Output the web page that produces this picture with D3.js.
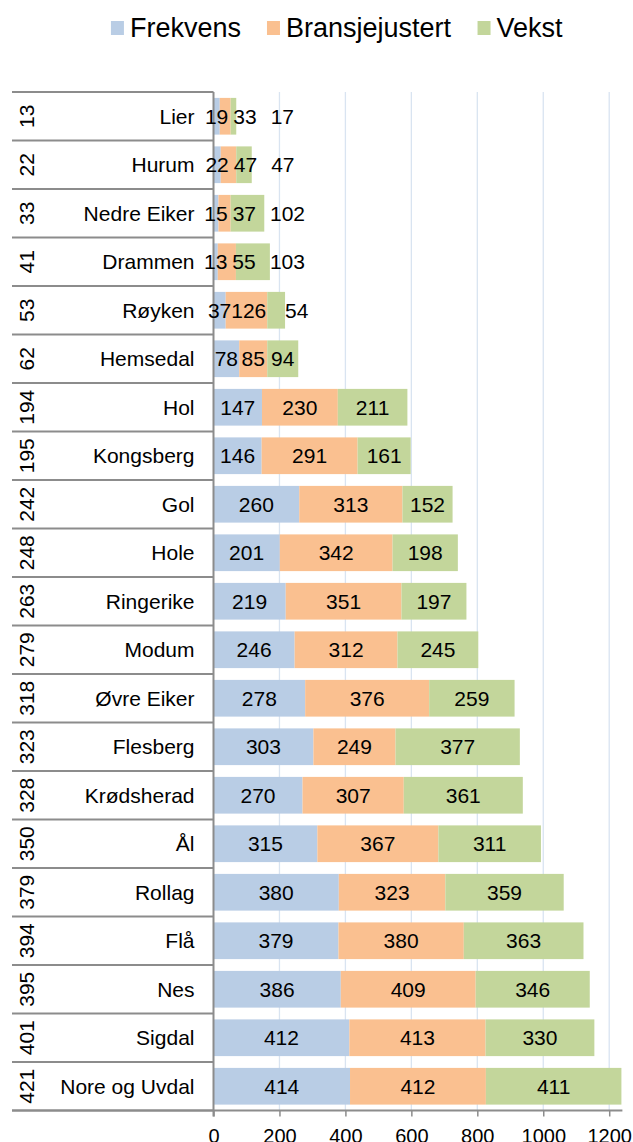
<!DOCTYPE html>
<html>
<head>
<meta charset="utf-8">
<script src="https://cdn.jsdelivr.net/npm/d3@7"></script>
<style>
  html, body { margin: 0; padding: 0; background: #ffffff; }
  svg { display: block; font-family: "Liberation Sans", Arial, Helvetica, sans-serif; }
</style>
</head>
<body>
<svg id="chart" width="633" height="1142"></svg>
<script>
// Municipalities (inner axis level) and their rank (outer axis level)
const ranks = [13, 22, 33, 41, 53, 62, 194, 195, 242, 248, 263, 279, 318, 323, 328, 350, 379, 394, 395, 401, 421];
const municipalities = ["Lier", "Hurum", "Nedre Eiker", "Drammen", "Røyken", "Hemsedal", "Hol", "Kongsberg", "Gol", "Hole",
  "Ringerike", "Modum", "Øvre Eiker", "Flesberg", "Krødsherad", "Ål", "Rollag", "Flå", "Nes", "Sigdal", "Nore og Uvdal"];

// Stacked series values
const frekvens = [19, 22, 15, 13, 37, 78, 147, 146, 260, 201, 219, 246, 278, 303, 270, 315, 380, 379, 386, 412, 414];
const bransjejustert = [33, 47, 37, 55, 126, 85, 230, 291, 313, 342, 351, 312, 376, 249, 307, 367, 323, 380, 409, 413, 412];
const vekst = [17, 47, 102, 103, 54, 94, 211, 161, 152, 198, 197, 245, 259, 377, 361, 311, 359, 363, 346, 330, 411];

const seriesNames = ["Frekvens", "Bransjejustert", "Vekst"];
const seriesColors = ["#b9cde5", "#fac090", "#c3d69b"];
const xTicks = [0, 200, 400, 600, 800, 1000, 1200];
const xMax = 1240;

const rows = municipalities.map((m, i) => ({
  key: m, rank: ranks[i],
  Frekvens: frekvens[i], Bransjejustert: bransjejustert[i], Vekst: vekst[i]
}));

const svg = d3.select("#chart");

const plot = { left: 213.5, right: 622.4, top: 92, bottom: 1110.5 };
const tableLeft = 12;
const fontSize = 21;

const x = d3.scaleLinear().domain([0, xMax]).range([plot.left, plot.right]);
const y = d3.scaleBand().domain(municipalities).range([plot.top, plot.bottom]).paddingInner(0.243).paddingOuter(0.1215);

// Gridlines
svg.append("g")
  .selectAll("line")
  .data(xTicks.filter(t => t > 0))
  .join("line")
  .attr("x1", d => x(d)).attr("x2", d => x(d))
  .attr("y1", plot.top).attr("y2", plot.bottom)
  .attr("stroke", "#d9e4f1").attr("stroke-width", 1.3);

// Stacked bars
const stacked = d3.stack().keys(seriesNames)(rows);

const barG = svg.append("g");
stacked.forEach((layer, si) => {
  barG.append("g")
    .selectAll("rect")
    .data(layer)
    .join("rect")
    .attr("x", d => x(d[0]))
    .attr("width", d => x(d[1]) - x(d[0]))
    .attr("y", d => y(d.data.key))
    .attr("height", y.bandwidth())
    .attr("fill", seriesColors[si]);
});

// Category table: separators, rank labels and names
const bandStep = y.step();
const boundaries = d3.range(municipalities.length + 1).map(i => plot.top + i * bandStep);
const tableG = svg.append("g");
tableG.selectAll("line.sep")
  .data(boundaries)
  .join("line")
  .attr("class", "sep")
  .attr("x1", tableLeft).attr("x2", plot.left)
  .attr("y1", d => d).attr("y2", d => d)
  .attr("stroke", "#8c8c8c").attr("stroke-width", 2);

tableG.selectAll("text.rank")
  .data(rows)
  .join("text")
  .attr("class", "rank")
  .attr("transform", d => `translate(33.5,${y(d.key) + y.bandwidth() / 2}) rotate(-90)`)
  .attr("text-anchor", "middle")
  .attr("font-size", fontSize)
  .attr("fill", "#000")
  .text(d => d.rank);

tableG.selectAll("text.name")
  .data(rows)
  .join("text")
  .attr("class", "name")
  .attr("x", plot.left - 19)
  .attr("y", d => y(d.key) + y.bandwidth() / 2)
  .attr("dy", "0.35em")
  .attr("text-anchor", "end")
  .attr("font-size", fontSize)
  .attr("fill", "#000")
  .text(d => d.key);

// Value axis
const xAxis = d3.axisBottom(x).tickValues(xTicks).tickSize(6).tickPadding(12).tickFormat(d3.format("d"));
const axG = svg.append("g")
  .attr("transform", `translate(0,${plot.bottom})`)
  .call(xAxis);
axG.select(".domain").remove();
axG.selectAll(".tick line").attr("stroke", "#8c8c8c").attr("stroke-width", 1.5);
axG.selectAll(".tick text").attr("font-size", 20).attr("fill", "#000")
  .attr("font-family", "'Liberation Sans', Arial, sans-serif");

// Axis lines
svg.append("line")
  .attr("x1", tableLeft).attr("x2", plot.right)
  .attr("y1", plot.bottom).attr("y2", plot.bottom)
  .attr("stroke", "#8c8c8c").attr("stroke-width", 2);
svg.append("line")
  .attr("x1", plot.left).attr("x2", plot.left)
  .attr("y1", plot.top).attr("y2", plot.bottom + 6)
  .attr("stroke", "#8c8c8c").attr("stroke-width", 2);

// Data labels: centred in each segment; labels too wide for their segment
// are pushed right of the previous label, the last one past the bar end
const labelG = svg.append("g");
rows.forEach((row, ri) => {
  let prevRight = -Infinity;
  stacked.forEach((layer, si) => {
    const d = layer[ri];
    const x0 = x(d[0]), x1 = x(d[1]);
    const t = labelG.append("text")
      .attr("y", y(row.key) + y.bandwidth() / 2)
      .attr("dy", "0.35em")
      .attr("text-anchor", "middle")
      .attr("font-size", fontSize)
      .attr("fill", "#000")
      .text(d.data[layer.key]);
    const w = t.node().getComputedTextLength();
    const fits = w <= (x1 - x0);
    let cx = (x0 + x1) / 2;
    if (fits) {
      cx = Math.max(cx, prevRight + w / 2);
    } else if (si === stacked.length - 1) {
      cx = Math.max(prevRight + 14, x1) + w / 2;
    } else {
      cx = Math.max(cx, prevRight + 5 + w / 2);
    }
    t.attr("x", cx);
    prevRight = cx + w / 2;
  });
});

// Legend
const legend = svg.append("g");
const items = legend.selectAll("g").data(seriesNames).join("g");
items.append("rect")
  .attr("width", 13).attr("height", 14)
  .attr("fill", (d, i) => seriesColors[i]);
items.append("text")
  .attr("x", 19).attr("y", 7).attr("dy", "0.35em")
  .attr("font-size", 27)
  .attr("fill", "#000")
  .text(d => d);
const legendGap = 26;
let lx = 0;
items.each(function () {
  d3.select(this).attr("transform", `translate(${lx},0)`);
  lx += this.getBBox().width + legendGap;
});
const legendWidth = lx - legendGap;
legend.attr("transform", `translate(${337 - legendWidth / 2},${21})`);
</script>
</body>
</html>
